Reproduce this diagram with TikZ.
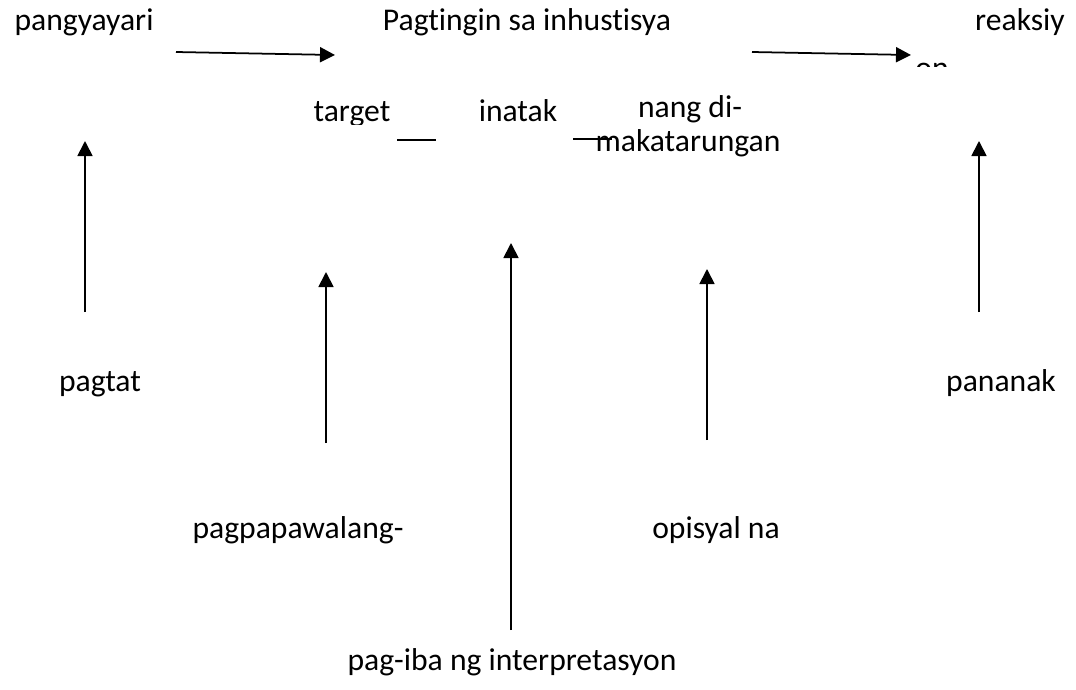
\documentclass[tikz,border=0pt]{standalone}
\usepackage{fontspec}
\setmainfont{Carlito}[RawFeature=-liga]
\usepackage{tikz}
\usetikzlibrary{arrows.meta, positioning}
\tikzset{
  % Text styles
  lbl/.style={font=\fontsize{18}{22}\selectfont, inner sep=0pt, anchor=base},
  % Arrow styles
  arrow/.style={-{Triangle[length=0.3cm, width=0.3cm]}, line width=1pt, black},
  bar/.style={line width=0.9pt, black}
}

\begin{document}
\begin{tikzpicture}[x=0.02cm, y=-0.02cm]
  \useasboundingbox (0,0) rectangle (1076,690);

  % Top row
  \node[lbl] (event) at (84,30) {pangyayari};
  \node[lbl] (view) at (527,30) {Pagtingin sa inhustisya};
  \node[lbl] (react) at (1020,30) {reaksiy};
  \begin{scope}
    \clip (900,40) rectangle (960,66);
    \node[lbl] (reactb) at (932,78) {on};
  \end{scope}

  % Under the title
  \begin{scope}
    \clip (290,90) rectangle (410,124);
    \node[lbl] (target) at (352,121) {target};
  \end{scope}
  \node[lbl] (attack) at (518,121) {inatak};
  \node[lbl] (unjust) at (690,117) {nang di-};
  \node[lbl] (unjustb) at (688,151) {makatarungan};
  \coordinate (u1a) at (397,140);
  \coordinate (u1b) at (436,140);
  \coordinate (u2a) at (573,139);
  \coordinate (u2b) at (612,139);
  \draw[bar] (u1a) -- (u1b);
  \draw[bar] (u2a) -- (u2b);

  % Causes
  \node[lbl] (spread) at (100,391) {pagtat};
  \node[lbl] (threat) at (1001,391) {pananak};
  \node[lbl] (dismiss) at (298,538) {pagpapawalang-};
  \node[lbl] (official) at (716,538) {opisyal na};
  \node[lbl] (interp) at (512,670) {pag-iba ng interpretasyon};

  % Arrow ends
  \coordinate (h1s) at (176,52);
  \coordinate (h1e) at (335,55);
  \coordinate (h2s) at (752,52);
  \coordinate (h2e) at (911,55);
  \coordinate (v1s) at (85,312);
  \coordinate (v1e) at (85,141);
  \coordinate (v2s) at (326,443);
  \coordinate (v2e) at (326,272);
  \coordinate (v3s) at (511,630);
  \coordinate (v3e) at (511,243);
  \coordinate (v4s) at (707,440);
  \coordinate (v4e) at (707,269);
  \coordinate (v5s) at (979,312);
  \coordinate (v5e) at (979,141);

  \draw[arrow] (h1s) -- (h1e);
  \draw[arrow] (h2s) -- (h2e);
  \draw[arrow] (v1s) -- (v1e);
  \draw[arrow] (v2s) -- (v2e);
  \draw[arrow] (v3s) -- (v3e);
  \draw[arrow] (v4s) -- (v4e);
  \draw[arrow] (v5s) -- (v5e);
\end{tikzpicture}
\end{document}
